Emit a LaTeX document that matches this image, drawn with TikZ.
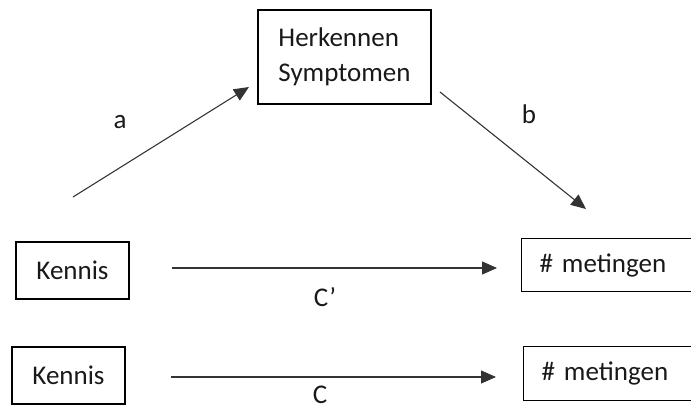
\documentclass[tikz,border=0pt]{standalone}
\usepackage{fontspec}
\setmainfont{Carlito}
\usetikzlibrary{arrows.meta}
\begin{document}
\begin{tikzpicture}[x=1pt,y=-1pt,
  every node/.style={font=\fontsize{27}{35}\selectfont, text=black!90},
  varbox/.style={draw=black, line width=1.1pt, inner sep=0pt},
  link/.style={draw=black!80, line width=1.1pt, -{Triangle[length=15pt,width=13pt]}},
  lbl/.style={inner sep=0pt}]
\useasboundingbox (0,0) rectangle (691,410);
\clip (0,0) rectangle (691,410);

% variables
\node[varbox, minimum width=173, minimum height=94, align=left] (herk) at (344.5,57)
  {Herkennen\\Symptomen};
\node[varbox, minimum width=113, minimum height=57] (ken1) at (72.5,270.5) {Kennis};
\node[varbox, minimum width=113, minimum height=57] (ken2) at (68.5,375.5) {Kennis};
\node[varbox, anchor=north west, minimum height=53, text width=190, inner xsep=18pt, align=left] (met1) at (521,238) {\# metingen};
\node[varbox, anchor=north west, minimum height=54, text width=190, inner xsep=18pt, align=left] (met2) at (523,346) {\# metingen};

% free arrow ends
\coordinate (aS) at (73,197);
\coordinate (aE) at (249,87);
\coordinate (bS) at (440,92);
\coordinate (bE) at (586,209);
\coordinate (cpS) at (172,268);
\coordinate (cpE) at (497,268);
\coordinate (cS) at (171,377);
\coordinate (cE) at (496,377);

% paths
\draw[link] (aS) -- (aE);
\draw[link] (bS) -- (bE);
\draw[link] (cpS) -- (cpE);
\draw[link] (cS) -- (cE);

% path labels
\node[lbl] (la) at (120,122) {a};
\node[lbl] (lb) at (529,114) {b};
\node[lbl] (lcp) at (325,297) {C’};
\node[lbl, anchor=south] (lc) at (320,404) {C};
\end{tikzpicture}
\end{document}
